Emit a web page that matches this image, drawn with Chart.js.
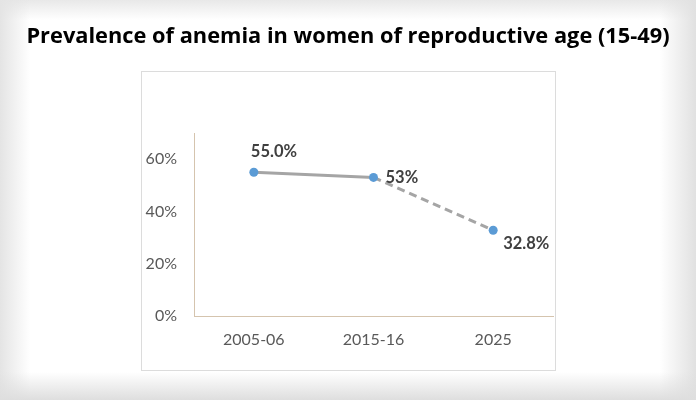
<!DOCTYPE html>
<html>
<head>
<meta charset="utf-8">
<script src="https://cdn.jsdelivr.net/npm/chart.js@4/dist/chart.umd.min.js"></script>
<style>
  html,body{margin:0;padding:0;}
  body{width:696px;height:400px;position:relative;overflow:hidden;
    background:
      linear-gradient(to bottom, rgba(225,225,225,0) 0px, rgba(225,225,225,0) 372px, rgba(222,222,222,1) 400px),
      linear-gradient(to right, rgba(228,228,228,1) 0px, rgba(255,255,255,0) 30px, rgba(255,255,255,0) 660px, rgba(225,225,225,1) 696px),
      linear-gradient(to bottom, rgba(232,232,232,1) 0px, rgba(255,255,255,0) 20px),
      #ffffff;}
  #panel{position:absolute;left:141px;top:71px;width:413px;height:298px;background:#fff;border:1px solid #dcdcdc;box-sizing:content-box;}
  #c{position:absolute;left:0;top:0;}
</style>
</head>
<body>
<div id="panel"></div>
<canvas id="c" width="696" height="400"></canvas>
<script>
const titleText = "Prevalence of anemia in women of reproductive age (15-49)";
const categories = ["2005-06", "2015-16", "2025"];
const values = [55.0, 53, 32.8];
const pointLabels = ["55.0%", "53%", "32.8%"];
const yTicks = [0, 20, 40, 60];
const yMax = 70;

// fit title font to the reference title width
const mctx = document.createElement('canvas').getContext('2d');
mctx.font = 'bold 20px "Open Sans"';
const tw = mctx.measureText(titleText).width;
const titleSize = Math.round(20 * 642 / tw * 10) / 10;
const titleLH = 1.2;
const titleTop = 37 - titleSize * titleLH / 2;
const titleBottom = 133 - titleTop - titleSize * titleLH;

const labelPlugin = {
  id: 'pointLabels',
  afterDatasetsDraw(chart) {
    const ctx = chart.ctx;
    const meta = chart.getDatasetMeta(0);
    ctx.save();
    ctx.font = 'bold 16.5px Lato';
    ctx.fillStyle = '#404040';
    const place = [
      {dx: -3, dy: -21, align: 'left'},
      {dx: 12, dy: 0, align: 'left'},
      {dx: 10, dy: 13, align: 'left'}
    ];
    meta.data.forEach((pt, i) => {
      const p = place[i];
      ctx.textAlign = p.align;
      ctx.textBaseline = 'middle';
      ctx.fillText(pointLabels[i], pt.x + p.dx, pt.y + p.dy);
    });
    ctx.restore();
  }
};

new Chart(document.getElementById('c'), {
  type: 'line',
  data: {
    labels: categories,
    datasets: [{
      data: values,
      borderColor: '#A5A5A5',
      borderWidth: 3,
      pointBackgroundColor: '#5B9BD5',
      pointBorderColor: '#5B9BD5',
      pointRadius: 4.5,
      pointBorderWidth: 0,
      tension: 0,
      yAxisID: 'y',
      segment: {
        borderDash: c => c.p0DataIndex === 1 ? [8, 5] : undefined
      }
    }]
  },
  options: {
    responsive: false,
    animation: false,
    devicePixelRatio: 1,
    layout: {padding: {left: 0, right: 0, top: 0, bottom: 30}},
    plugins: {
      legend: {display: false},
      tooltip: {enabled: false},
      title: {
        display: true,
        text: titleText,
        color: '#000000',
        font: {family: '"Open Sans"', size: titleSize, weight: 'bold', lineHeight: titleLH},
        padding: {top: titleTop, bottom: titleBottom}
      }
    },
    scales: {
      x: {
        offset: true,
        grid: {display: false, drawTicks: false},
        border: {display: true, color: '#D5C4AE', width: 1},
        ticks: {color: '#595959', font: {family: 'Lato', size: 16}, padding: 14},
        afterFit: s => { s.height = 54; }
      },
      y: {
        position: 'left',
        min: 0, max: yMax,
        grid: {display: false, drawTicks: false},
        border: {display: true, color: '#D5C4AE', width: 1},
        afterBuildTicks: s => { s.ticks = yTicks.map(v => ({value: v})); },
        ticks: {color: '#595959', font: {family: 'Lato', size: 16}, padding: 17,
          callback: v => v + '%'},
        afterFit: s => { s.width = 194; }
      },
      yRight: {
        position: 'right',
        min: 0, max: yMax,
        grid: {display: false, drawTicks: false},
        border: {display: false},
        ticks: {display: false},
        afterFit: s => { s.width = 143; }
      }
    }
  },
  plugins: [labelPlugin]
});
</script>
</body>
</html>
